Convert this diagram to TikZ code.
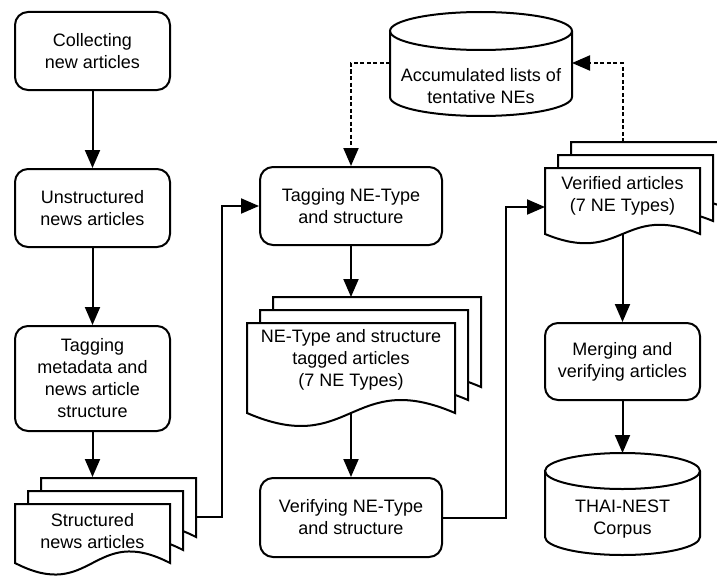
\documentclass[tikz,border=0pt]{standalone}
\usepackage{fontspec}
\setmainfont{Liberation Sans}
\usepackage{tikz}
\usetikzlibrary{positioning,calc,arrows.meta}

\begin{document}
\begin{tikzpicture}[x=1pt,y=-1pt,font=\fontsize{18}{22}\selectfont,
  box/.style={draw,line width=2pt,rounded corners=13pt,align=center,minimum width=155pt,minimum height=78pt,inner sep=2pt},
  page/.style={draw,fill=white,line width=2pt},
  db/.style={draw,line width=2pt},
  arr/.style={-{Triangle[length=18pt,width=15pt]},line width=2pt},
  dsh/.style={arr,dash pattern=on 4pt off 2.5pt}]
  \useasboundingbox (0,0) rectangle (717,578);
  \clip (0,0) rectangle (717,578);
  % left column
  \node[box] (col) at (92.5,51) {Collecting\\new articles};
  \node[box,below=77pt of col] (uns) {Unstructured\\news articles};
  \node[box,below=77pt of uns,minimum height=105pt] (tmd) {Tagging\\metadata and\\news article\\structure};
  \foreach \k in {2,1,0}
    \draw[page,shift={(13*\k,-13*\k)}] (15,504) -- (170,504) -- (170,563) .. controls (92.5,523) and (92.5,603) .. (15,563) -- cycle;
  \node[align=center] (sna) at (92.5,531) {Structured\\news articles};
  % middle column
  \draw[db] (390,31) -- (390,97) arc[start angle=180,end angle=360,x radius=91pt,y radius=19pt] -- (572,31);
  \draw[db] (481,31) ellipse [x radius=91pt,y radius=19pt];
  \node[align=center] (acc) at (481,86) {Accumulated lists of\\tentative NEs};
  \node[box,minimum width=182pt] (tne) at (351,206) {Tagging NE-Type\\and structure};
  \foreach \k in {2,1,0}
    \draw[page,shift={(13*\k,-13*\k)}] (247,323) -- (455,323) -- (455,413) .. controls (351,368) and (351,458) .. (247,413) -- cycle;
  \node[align=center] (nta) at (351,360) {NE-Type and structure\\tagged articles\\(7 NE Types)};
  \node[box,minimum width=182pt,minimum height=79pt] (vne) at (351,517.5) {Verifying NE-Type\\and structure};
  % right column
  \foreach \k in {2,1,0}
    \draw[page,shift={(13*\k,-13*\k)}] (545,168) -- (700,168) -- (700,234) .. controls (622.5,202) and (622.5,266) .. (545,234) -- cycle;
  \node[align=center] (ver) at (622.5,196) {Verified articles\\(7 NE Types)};
  \node[box,minimum height=77pt] (mer) at (622.5,361.5) {Merging and\\verifying articles};
  \draw[db] (545,471) -- (545,537) arc[start angle=180,end angle=360,x radius=77.5pt,y radius=18pt] -- (700,471);
  \draw[db] (622.5,471) ellipse [x radius=77.5pt,y radius=18pt];
  \node[align=center] (thn) at (622.5,519) {THAI-NEST\\Corpus};
  % connectors
  \draw[arr] (col) -- (uns);
  \draw[arr] (uns) -- (tmd);
  \draw[arr] (tmd) -- ([yshift=54pt]sna.center);
  \draw[arr] ([shift={(103.5pt,14pt)}]sna.center) -- ++(26,0) |- (tne.west);
  \draw[arr] (tne) -- ([yshift=63pt]nta.center);
  \draw[arr] ([yshift=-53pt]nta.center) -- (vne);
  \draw[arr] (vne.east) -- ++(63,0) |- ([shift={(-77.5pt,-11pt)}]ver.center);
  \draw[arr] ([yshift=-38pt]ver.center) -- (mer);
  \draw[arr] (mer) -- ([yshift=66pt]thn.center);
  \draw[dsh] ([yshift=54pt]ver.center) |- ([shift={(91pt,23pt)}]acc.center);
  \draw[dsh] ([shift={(-91pt,23pt)}]acc.center) -| (tne.north);
\end{tikzpicture}
\end{document}
